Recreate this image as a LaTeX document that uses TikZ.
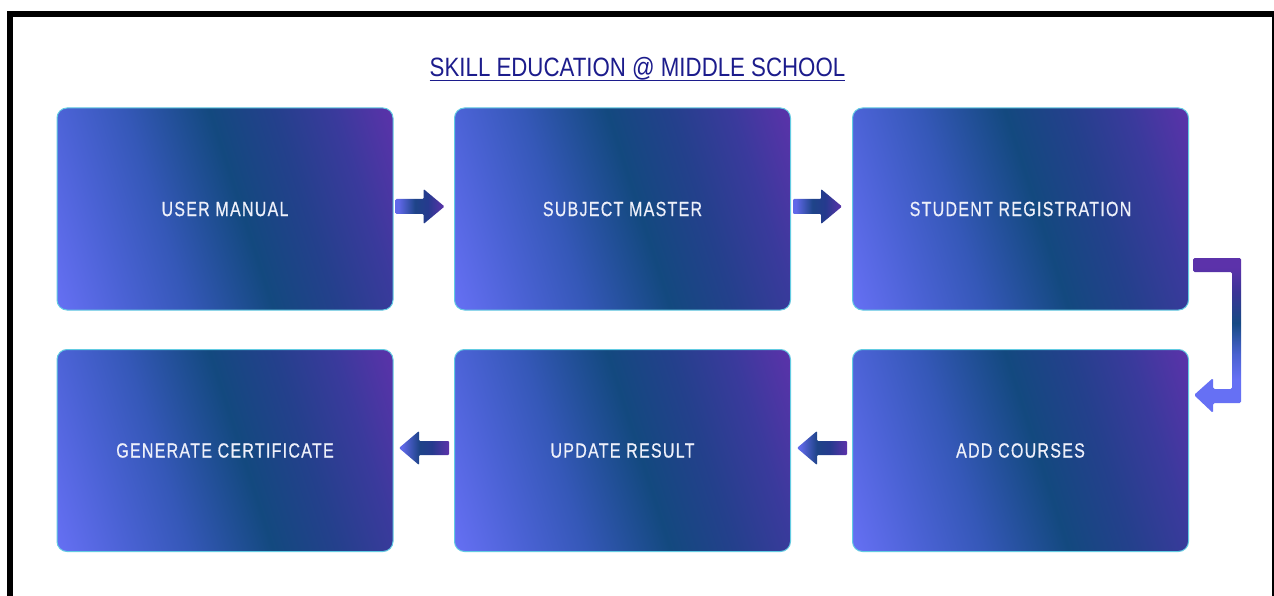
\documentclass[tikz,border=0pt]{standalone}
\usepackage{fontspec}
\usetikzlibrary{calc}
\newfontfamily\boxfont[FakeStretch=0.78,LetterSpace=6.2,FakeBold=0.6]{Liberation Sans}
\newfontfamily\titlefont[FakeStretch=0.84]{Liberation Sans}
\definecolor{peri}{HTML}{6670F4}
\definecolor{bA}{HTML}{4A62D4}
\definecolor{bB}{HTML}{3558B8}
\definecolor{navyb}{HTML}{13497F}
\definecolor{bC}{HTML}{24408C}
\definecolor{bD}{HTML}{3A3A9C}
\definecolor{purp}{HTML}{5C32AA}
\definecolor{edge}{HTML}{62CBE2}
\definecolor{boxtext}{HTML}{EEF0FA}
\definecolor{titleblue}{HTML}{1C1C8C}
\definecolor{aA}{HTML}{6068E8}
\definecolor{aB}{HTML}{1E4488}
\definecolor{aC}{HTML}{263A8E}
\definecolor{eA}{HTML}{4A62D0}
\definecolor{eB}{HTML}{164A84}
\definecolor{eC}{HTML}{3B3596}
\pgfdeclarehorizontalshading{boxshade}{100bp}{color(0bp)=(peri); color(25bp)=(peri); color(34bp)=(bA); color(41.5bp)=(bB); color(52bp)=(navyb); color(60bp)=(bC); color(67.5bp)=(bD); color(75bp)=(purp); color(100bp)=(purp)}
\pgfdeclarehorizontalshading{arrowshade}{100bp}{color(0bp)=(peri); color(28bp)=(aA); color(45bp)=(aB); color(58bp)=(aC); color(75bp)=(purp); color(100bp)=(purp)}
\pgfdeclareverticalshading{elbowshade}{100bp}{color(0bp)=(peri); color(36bp)=(peri); color(44bp)=(eA); color(54bp)=(eB); color(64bp)=(eC); color(72bp)=(purp); color(100bp)=(purp)}
\tikzset{
  stepbox/.style={rounded corners=10pt, minimum width=336pt, minimum height=202pt,
    inner sep=0pt, draw=edge, line width=1pt,
    path picture={\shade[sharp corners, shading=boxshade, shading angle=17.8]
      (path picture bounding box.center) ++(-191,-191) rectangle ++(382,382);},
    text=boxtext, font=\boxfont\fontsize{20.5}{24}\selectfont},
  flowarrow/.style={shading=arrowshade, shading angle=0, rounded corners=1pt},
  elbowarrow/.style={shading=elbowshade, shading angle=0, rounded corners=1.5pt},
  titletext/.style={text=titleblue, inner sep=0pt, anchor=base,
    font=\titlefont\fontsize{26.5}{30}\selectfont}
}
\begin{document}
\begin{tikzpicture}[x=1pt,y=-1pt]
\useasboundingbox (0,0) rectangle (1274,596);
\fill[white] (0,0) rectangle (1274,596);
% frame
\fill[black] (7,11) rectangle (1274,17);
\fill[black] (7,11) rectangle (13,596);
\fill[black] (1272,11) rectangle (1274,596);
% title
\node[titletext] (title) at (637.5,77) {SKILL EDUCATION @ MIDDLE SCHOOL};
\draw[titleblue, line width=1.4pt] ([yshift=-3.5pt]title.base west) -- ([yshift=-3.5pt]title.base east);
% boxes
\node[stepbox] (b1) at (225,209) {USER MANUAL};
\node[stepbox] (b2) at (622.5,209) {SUBJECT MASTER};
\node[stepbox] (b3) at (1020.5,209) {STUDENT REGISTRATION};
\node[stepbox] (b4) at (225,450.5) {GENERATE CERTIFICATE};
\node[stepbox] (b5) at (622.5,450.5) {UPDATE RESULT};
\node[stepbox] (b6) at (1020.5,450.5) {ADD COURSES};
% right arrows
\shade[flowarrow] ($(b1.east)+(2,-10)$) -- ++(28,0) -- ++(0,-10) -- ++(21,17.5) -- ++(-21,17.5) -- ++(0,-10) -- ++(-28,0) -- cycle;
\shade[flowarrow] ($(b2.east)+(2,-10)$) -- ++(28,0) -- ++(0,-10) -- ++(21,17.5) -- ++(-21,17.5) -- ++(0,-10) -- ++(-28,0) -- cycle;
% left arrows
\shade[flowarrow] ($(b6.west)+(-5,-9.5)$) -- ++(-30,0) -- ++(0,-10) -- ++(-20,17) -- ++(20,17) -- ++(0,-10) -- ++(30,0) -- cycle;
\shade[flowarrow] ($(b5.west)+(-5,-9.5)$) -- ++(-30,0) -- ++(0,-10) -- ++(-20,17) -- ++(20,17) -- ++(0,-10) -- ++(30,0) -- cycle;
% elbow arrow from b3 to b6
\shade[elbowarrow] ($(b3.east)+(4,49)$) -- ++(48,0) -- ++(0,145) -- ++(-28,0) -- ++(0,10) -- ++(-19,-18) -- ++(19,-17) -- ++(0,11) -- ++(19,0) -- ++(0,-117) -- ++(-39,0) -- cycle;
\end{tikzpicture}
\end{document}
